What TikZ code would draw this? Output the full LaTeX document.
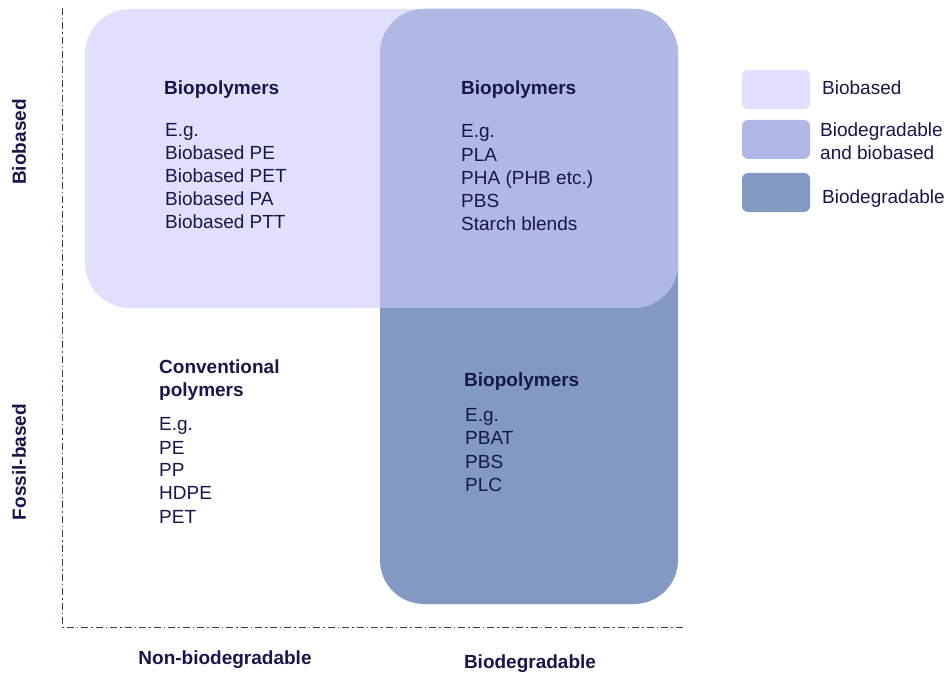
\documentclass[tikz,border=0pt]{standalone}
\usepackage{fontspec}
\setmainfont{Liberation Sans}
\definecolor{inkc}{HTML}{17174D}
\definecolor{axisc}{HTML}{3A3A5C}
\definecolor{biobasedc}{HTML}{E0E0FC}
\definecolor{bothc}{HTML}{B0B8E6}
\definecolor{degradc}{HTML}{8299C1}
\begin{document}
\begin{tikzpicture}[x=1pt,y=-1pt,
  txt/.style={anchor=base west,inner sep=0pt,text=inkc,font=\fontsize{19}{22}\selectfont},
  head/.style={txt,font=\fontsize{19}{22}\selectfont\bfseries},
  axislabel/.style={inner sep=0pt,text=inkc,font=\fontsize{19}{22}\selectfont\bfseries},
  axisline/.style={draw=axisc,line width=0.9pt,dash pattern=on 7pt off 3pt on 1.5pt off 3pt},
  legendbox/.style={rounded corners=6pt}]
\useasboundingbox (0,0) rectangle (946,676);
\fill[white] (0,0) rectangle (946,676);

% regions: biodegradable (back), biobased (front), overlap
\fill[degradc,rounded corners=44pt] (380,9) rectangle (678,604);
\fill[biobasedc,rounded corners=45pt] (85,9) rectangle (678,308);
\begin{scope}
  \clip[rounded corners=44pt] (380,9) rectangle (678,604);
  \fill[bothc,rounded corners=45pt] (85,9) rectangle (678,308);
\end{scope}

% axes
\draw[axisline] (62,8) -- (62,627) -- (684,627);

% axis labels
\node[axislabel,rotate=90] (ybio) at (19,142) {Biobased};
\node[axislabel,rotate=90] (yfos) at (19,462) {Fossil-based};
\node[axislabel] (xnon) at (225,660) {Non-biodegradable};
\node[axislabel] (xbio) at (530,664) {Biodegradable};

% biobased, non-biodegradable
\node[head] (h1) at (164,95) {Biopolymers};
\foreach \t [count=\i] in {E.g.,Biobased PE,Biobased PET,Biobased PA,Biobased PTT}
  \node[txt] (a\i) at (165,{137+(\i-1)*22.8}) {\t};

% biobased and biodegradable
\node[head] (h2) at (461,95) {Biopolymers};
\foreach \t [count=\i] in {E.g.,PLA,PHA (PHB etc.),PBS,Starch blends}
  \node[txt] (b\i) at (461,{138+(\i-1)*23.2}) {\t};

% fossil-based, non-biodegradable
\node[head] (h3) at (159,374) {Conventional};
\node[head] (h3b) at (159,397) {polymers};
\foreach \t [count=\i] in {E.g.,PE,PP,HDPE,PET}
  \node[txt] (c\i) at (159,{431+(\i-1)*23}) {\t};

% fossil-based, biodegradable
\node[head] (h4) at (464,387) {Biopolymers};
\foreach \t [count=\i] in {E.g.,PBAT,PBS,PLC}
  \node[txt] (d\i) at (465,{422+(\i-1)*23}) {\t};

% legend
\fill[biobasedc,legendbox] (742,70) rectangle (810,109);
\fill[bothc,legendbox] (742,120) rectangle (810,159);
\fill[degradc,legendbox] (742,173) rectangle (810,212);
\node[txt] (l1) at (822,95) {Biobased};
\node[txt] (l2) at (820,137) {Biodegradable};
\node[txt] (l2b) at (820,160) {and biobased};
\node[txt] (l3) at (822,204) {Biodegradable};
\end{tikzpicture}
\end{document}
